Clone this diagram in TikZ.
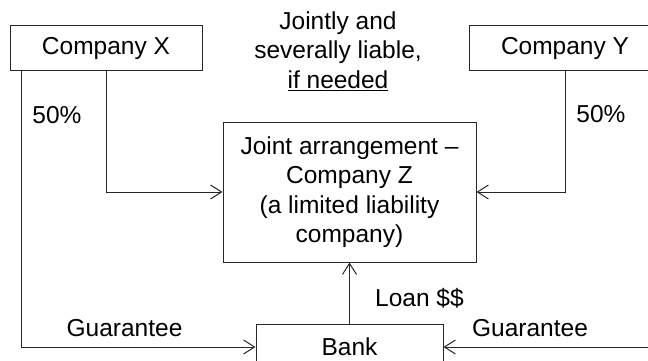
\documentclass[tikz,border=0pt]{standalone}
\usepackage{fontspec}
\setmainfont{Liberation Sans}
\usetikzlibrary{arrows.meta}
\begin{document}
\begin{tikzpicture}[x=1pt,y=-1pt,
  every node/.style={font=\fontsize{24.5}{29.5}\selectfont, inner sep=0pt},
  entity/.style={draw=black!85, line width=1pt, minimum width=192pt, minimum height=45pt},
  flow/.style={draw=black!85, line width=1pt, -{Straight Barb[length=11pt,width=14pt]}},
  tag/.style={anchor=center}]
\useasboundingbox (0,0) rectangle (648,361);
\clip (0,0) rectangle (648,361);

% parties
\node[entity] (cx) at (106,48.5) {Company X};
\node[entity] (cy) at (565,48.5) {Company Y};
\node[entity, minimum width=253pt, minimum height=140pt, align=center] (cz) at (349.5,192)
  {Joint arrangement –\\Company Z\\(a limited liability\\company)};
\node[entity, minimum width=187pt, minimum height=46pt] (bank) at (349.5,347) {Bank};

% guarantee routes along the outer edges
\coordinate (gl) at (21,0);
\coordinate (gr) at (650,0);

% ownership stakes
\draw[flow] (cx.south) |- (cz.west);
\draw[flow] (cy.south) |- (cz.east);

% guarantees and loan
\draw[flow] (cx.south -| gl) |- (bank.west);
\draw[flow] (cy.south -| gr) |- (bank.east);
\draw[flow] (bank.north) -- (cz.south);

% labels
\node[tag, align=center] (liab) at (338,51) {Jointly and\\severally liable,\\\underline{if needed}};
\node[tag] (px) at (57,115) {50\%};
\node[tag] (py) at (601,114) {50\%};
\node[tag] (gx) at (124.5,328) {Guarantee};
\node[tag] (gy) at (530,328) {Guarantee};
\node[tag] (loan) at (419.5,298) {Loan \$\$};
\end{tikzpicture}
\end{document}
